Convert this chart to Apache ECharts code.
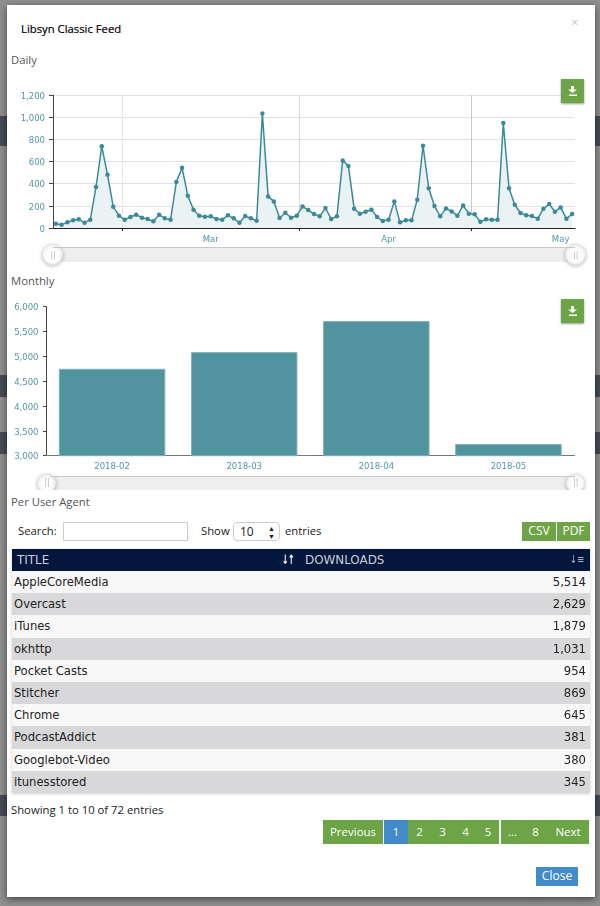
<!DOCTYPE html>
<html>
<head>
<meta charset="utf-8">
<title>Libsyn Classic Feed</title>
<script src="https://cdn.jsdelivr.net/npm/echarts@6/dist/echarts.min.js"></script>
<style>
html, body { margin: 0; padding: 0; width: 600px; height: 906px; overflow: hidden; background: #8f8f8f; font-family: "Open Sans", sans-serif; }
.abs { position: absolute; white-space: nowrap; }
.strip { position: absolute; left: 0; width: 600px; background: #474c58; }
#modal { position: absolute; left: 7px; top: 5px; width: 588px; height: 892px; background: #fff; box-shadow: 0 2px 7px rgba(0,0,0,.55); }
#chart_daily { position: absolute; left: 0; top: 85px; width: 600px; height: 185px; }
#chart_monthly { position: absolute; left: 0; top: 295px; width: 600px; height: 195px; }
.heading { font-size: 11.3px; color: #555; }
.label { font-size: 11.3px; color: #222; }
.box { border: 1px solid #ccc; box-sizing: border-box; background: #fff; }
.green { background: #6da446; color: #fff; text-align: center; box-sizing: border-box; }
.dl { left: 561px; width: 23px; height: 24px; box-shadow: 0 1px 2px rgba(0,0,0,.4); }
#table { position: absolute; left: 12px; top: 549px; width: 578px; box-shadow: 0 1px 3px rgba(0,0,0,.2); font-family: "DejaVu Sans", sans-serif; }
#table .head { height: 22px; background: #03163b; color: #c9ced8; font-size: 11.9px; line-height: 22px; position: relative; }
#table .row { height: 22.2px; line-height: 22px; font-size: 11.6px; color: #222; position: relative; }
#table .row:nth-child(even) { background: #f8f8f8; }
#table .row:nth-child(odd) { background: #d8d8da; }
#table .t { position: absolute; left: 2px; }
#table .d { position: absolute; right: 4px; }
.page { position: absolute; top: 820px; height: 24px; line-height: 23px; font-size: 11.5px; color: #fff; background: #6da446; text-align: center; box-sizing: border-box; }
</style>
</head>
<body>
<div class="strip" style="top:116px;height:30px"></div>
<div class="strip" style="top:375px;height:22px"></div>
<div class="strip" style="top:432px;height:22px"></div>
<div class="strip" style="top:795px;height:21px"></div>
<div id="modal"></div>

<div class="abs" style="left:21px;top:21px;font-size:11.3px;color:#000;-webkit-text-stroke:0.2px #000">Libsyn Classic Feed</div>
<div class="abs" style="left:571px;top:13px;font-size:13px;color:#c8c8c8">×</div>
<div class="abs heading" style="left:11px;top:52px">Daily</div>
<div id="chart_daily"></div>
<div class="abs heading" style="left:11px;top:273px">Monthly</div>
<div id="chart_monthly"></div>
<div class="abs heading" style="left:11px;top:494px">Per User Agent</div>

<div class="abs green dl" style="top:79px"><svg width="23" height="24"><path d="M10 7h3v3.500h3l-4.500 3.500-4.500-3.500h3zM8 15.500h8v1.500h-8z" fill="#fff"/></svg></div>
<div class="abs green dl" style="top:299px"><svg width="23" height="24"><path d="M10 7h3v3.500h3l-4.500 3.500-4.500-3.500h3zM8 15.500h8v1.500h-8z" fill="#fff"/></svg></div>

<div class="abs label" style="left:18px;top:523px">Search:</div>
<div class="abs box" style="left:63px;top:522px;width:125px;height:19px"></div>
<div class="abs label" style="left:201px;top:523px">Show</div>
<div class="abs box" style="left:233px;top:522px;width:47px;height:19px;border-radius:4px;font-size:12px;line-height:17px;padding-left:6px;color:#222">10<span style="position:absolute;right:4px;top:0;font-size:7px;line-height:8px;padding-top:2px">▲<br>▼</span></div>
<div class="abs label" style="left:285px;top:523px">entries</div>
<div class="abs green" style="left:522px;top:522px;width:34px;height:19px;font-size:12px;line-height:18px">CSV</div>
<div class="abs green" style="left:557px;top:522px;width:33px;height:19px;font-size:12px;line-height:18px">PDF</div>

<div id="table"></div>

<div class="abs label" style="left:11px;top:802px">Showing 1 to 10 of 72 entries</div>
<div id="pager"></div>
<div class="abs" style="left:536px;top:867px;width:42px;height:19px;background:#428bca;color:#fff;font-size:12px;line-height:18px;text-align:center">Close</div>

<script>
// one value per day, 17 Feb 2018 to 18 May 2018
var dailyDownloads = [
	39, 30, 51, 69, 78, 48, 75, 370, 737, 481, 192, 111, 75, 99, 120, 93, 81, 60, 120, 87,
	75, 415, 544, 292, 165, 111, 102, 105, 81, 75, 114, 87, 48, 108, 87, 66, 1034, 285, 240, 90,
	138, 93, 111, 195, 162, 126, 105, 180, 81, 105, 610, 559, 174, 129, 147, 165, 99, 63, 75, 240,
	51, 69, 69, 255, 742, 358, 198, 105, 177, 150, 111, 204, 129, 123, 57, 78, 75, 75, 947, 358,
	210, 135, 114, 108, 84, 174, 216, 147, 186, 84, 126
];
// days since 17 Feb
var monthStartDays = [12, 43, 73];
var monthLabelDays = [27.5, 58.5, 88.5];
var monthLabels = ['Mar', 'Apr', 'May'];

var months = ['2018-02', '2018-03', '2018-04', '2018-05'];
var monthlyDownloads = [4750, 5085, 5710, 3235];

var agents = ['AppleCoreMedia', 'Overcast', 'iTunes', 'okhttp', 'Pocket Casts', 'Stitcher', 'Chrome', 'PodcastAddict', 'Googlebot-Video', 'itunesstored'];
var agentDownloads = ['5,514', '2,629', '1,879', '1,031', '954', '869', '645', '381', '380', '345'];

var teal = '#3b8a99';
var labelColor = '#5296a3';
var labelFont = 'DejaVu Sans';

function thousands(v) {
	return v.toLocaleString('en-US');
}

function grip(x, y) {
	return {
		type: 'text', left: x, top: y, z: 200,
		style: { text: '||', fill: '#bbb', font: '8px "DejaVu Sans"' }
	};
}

function slider(left, right, top, height, handleSize) {
	return {
		type: 'slider',
		filterMode: 'none',
		left: left, right: right, top: top, height: height,
		start: 0, end: 100,
		showDetail: false, showDataShadow: false, brushSelect: false, moveHandleSize: 0,
		backgroundColor: '#eeeeee', fillerColor: '#eeeeee', borderColor: '#eeeeee', borderRadius: 0,
		handleIcon: 'circle', handleSize: handleSize,
		handleStyle: { color: '#fff', borderColor: '#e4e4e4', borderWidth: 1, shadowBlur: 4, shadowColor: 'rgba(0,0,0,.25)', shadowOffsetY: 1 }
	};
}

function drawDaily() {
	var chart = echarts.init(document.getElementById('chart_daily'));
	var points = dailyDownloads.map(function (v, i) {
		return [i + 0.5, v];
	});
	chart.setOption({
		animation: false,
		grid: { left: 53, right: 25, top: 10, bottom: 42 },
		xAxis: {
			type: 'value',
			min: 0,
			max: dailyDownloads.length,
			axisLine: { lineStyle: { color: '#222', width: 1 } },
			axisTick: { show: true, customValues: monthStartDays, length: 3, lineStyle: { color: '#222' } },
			axisLabel: {
				customValues: monthLabelDays,
				color: labelColor, fontFamily: labelFont, fontSize: 8.5, margin: 7,
				hideOverlap: false,
				formatter: function (v) { return monthLabels[monthLabelDays.indexOf(v)]; }
			},
			splitLine: { show: true, lineStyle: { color: ['#e8e8e8', '#d8d8d8', '#c8c8c8'], width: 1 } }
		},
		yAxis: {
			type: 'value', min: 0, max: 1200, interval: 200,
			axisLine: { show: true, lineStyle: { color: '#444', width: 1 } },
			axisTick: { show: true, length: 4, lineStyle: { color: '#444' } },
			axisLabel: { color: labelColor, fontFamily: labelFont, fontSize: 8.5, margin: 8, verticalAlign: 'top', padding: [-3, 0, 0, 0], formatter: thousands },
			splitLine: { lineStyle: { color: '#e2e2e2', width: 1 } }
		},
		dataZoom: [slider(50, 25, 162, 15, 20)],
		graphic: [
			{ type: 'rect', shape: { x: 53, y: 162, width: 522, height: 1 }, style: { fill: '#c8c8c8' }, z: 50 },
			grip(50.500, 167), grip(573, 167)
		],
		series: [{
			type: 'line',
			data: points,
			symbol: 'circle', symbolSize: 4.5, showSymbol: true,
			showAllSymbol: true,
			lineStyle: { color: teal, width: 1.5 },
			itemStyle: { color: teal },
			areaStyle: { color: '#eaf2f4', opacity: 1 }
		}]
	});
}

function drawMonthly() {
	var chart = echarts.init(document.getElementById('chart_monthly'));
	chart.setOption({
		animation: false,
		grid: { left: 46, right: 25.500, top: 11.700, bottom: 34.300 },
		xAxis: {
			type: 'category',
			data: months,
			axisLine: { lineStyle: { color: '#777', width: 1 } },
			axisTick: { length: 13, lineStyle: { color: '#444' } },
			axisLabel: { color: labelColor, fontFamily: labelFont, fontSize: 8.5, margin: 7, hideOverlap: false, interval: 0 }
		},
		yAxis: {
			type: 'value', min: 3000, max: 6000, interval: 500,
			axisLine: { show: true, lineStyle: { color: '#444', width: 1 } },
			axisTick: { show: true, length: 3, lineStyle: { color: '#444' } },
			axisLabel: { color: labelColor, fontFamily: labelFont, fontSize: 8.5, margin: 7.500, verticalAlign: 'top', padding: [-3, 0, 0, 0], formatter: thousands },
			splitLine: { show: false }
		},
		dataZoom: [slider(44, 25, 181.500, 12.500, 18)],
		graphic: [
			{ type: 'rect', shape: { x: 50, y: 181, width: 525, height: 1 }, style: { fill: '#c8c8c8' }, z: 50 },
			grip(44.500, 184), grip(573, 184)
		],
		series: [{
			type: 'bar',
			data: monthlyDownloads,
			barWidth: '80.600%',
			itemStyle: { color: '#51939f', borderColor: '#7fb0ba', borderWidth: 1 }
		}]
	});
}

function drawTable() {
	var html = '<div class="head"><span style="position:absolute;left:5px">TITLE</span>' +
		'<span style="position:absolute;left:270px;color:#fff;font-weight:bold;letter-spacing:-1px;font-size:13px;transform:scaleX(.6);transform-origin:left">↓↑</span>' +
		'<span style="position:absolute;left:293px">DOWNLOADS</span>' +
		'<span style="position:absolute;right:6px;color:#a8aebc;font-size:11px;transform:scaleX(.8);transform-origin:right">↓≡</span></div>';
	agents.forEach(function (name, i) {
		html += '<div class="row"><span class="t">' + name + '</span><span class="d">' + agentDownloads[i] + '</span></div>';
	});
	document.getElementById('table').innerHTML = html;
}

function drawPager() {
	var pages = [
		['Previous', 323, 60, '#6da446'], ['1', 384, 24, '#428bca'], ['2', 408, 23, '#6da446'], ['3', 431, 23, '#6da446'],
		['4', 454, 23, '#6da446'], ['5', 477, 22, '#6da446'], ['...', 501, 23, '#6da446'], ['8', 524, 23, '#6da446'], ['Next', 547, 42, '#6da446']
	];
	var html = '';
	pages.forEach(function (p) {
		html += '<div class="page" style="left:' + p[1] + 'px;width:' + p[2] + 'px;background:' + p[3] + '">' + p[0] + '</div>';
	});
	document.getElementById('pager').innerHTML = html;
}

drawDaily();
drawMonthly();
drawTable();
drawPager();
</script>
</body>
</html>
